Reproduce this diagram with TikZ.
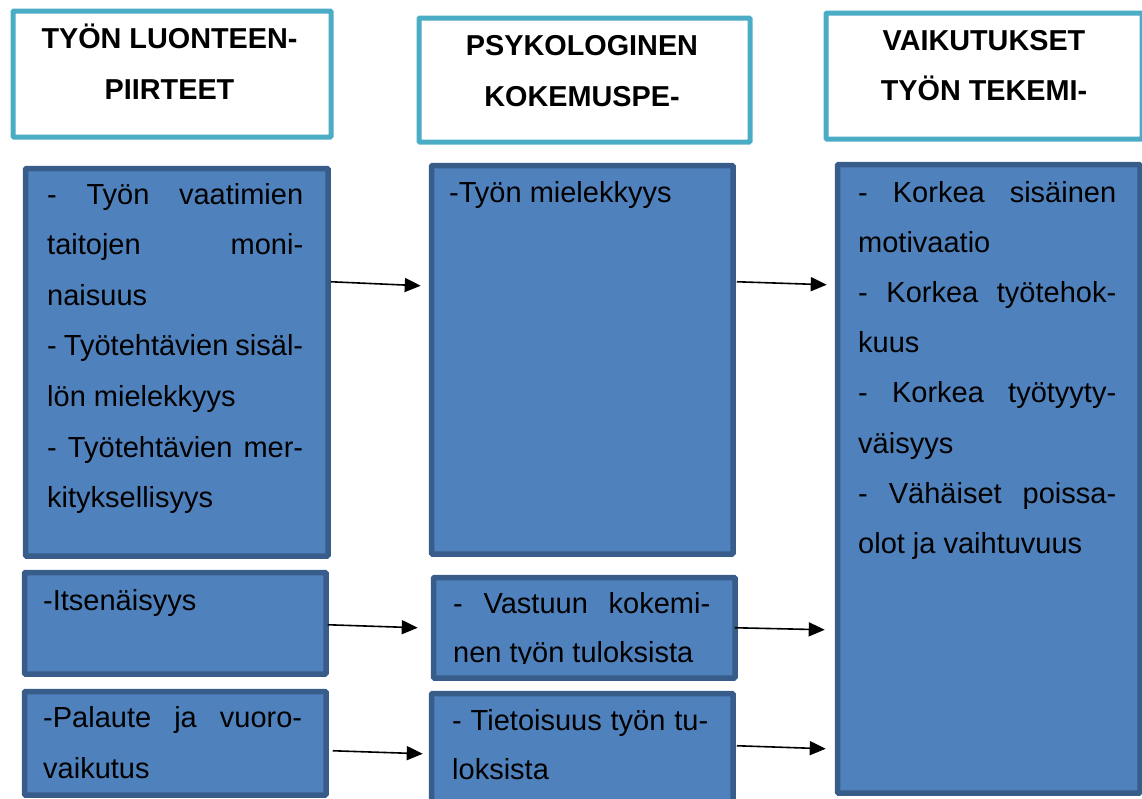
\documentclass[tikz,border=0pt]{standalone}
\usepackage{fontspec}
\setmainfont{Liberation Sans}
\usetikzlibrary{arrows.meta,calc}
\definecolor{hdrline}{HTML}{4BACC6}
\definecolor{boxfill}{HTML}{4F81BD}
\definecolor{boxline}{HTML}{385D8A}
\newcommand\jline[2]{\hbox to #1{#2}}
\newcommand\pline[1]{\hbox{#1}}
\begin{document}
\begin{tikzpicture}[x=1pt,y=-1pt,
  hdrbox/.style={draw=hdrline,line width=5pt,fill=white,rounded corners=1pt,inner sep=0pt,anchor=north west},
  bodybox/.style={draw=boxline,line width=5.5pt,fill=boxfill,rounded corners=1pt,inner sep=0pt,anchor=north west},
  hdrtext/.style={anchor=base,inner sep=0pt,font=\bfseries\fontsize{28.8}{51}\selectfont},
  bodytext/.style={anchor=base west,inner sep=0pt,font=\fontsize{29}{50.6}\selectfont},
  arr/.style={-{Triangle[length=16pt,width=14pt]},line width=1.6pt,black}
]
\useasboundingbox (0,0) rectangle (1142,798);
% header boxes
\node[hdrbox,minimum width=318pt,minimum height=126pt] (H1) at (10.5,8.5) {};
\node[hdrbox,minimum width=331pt,minimum height=124pt] (H2) at (416.5,15.5) {};
\node[hdrbox,minimum width=316pt,minimum height=126pt] (H3) at (823.5,10.5) {};
\node[hdrtext] (H1t) at (169.5,48) {\vtop{\baselineskip=51pt\hbox to 0pt{\hss TYÖN LUONTEEN-\hss}\hbox to 0pt{\hss PIIRTEET\hss}}};
\node[hdrtext] (H2t) at (582,55) {\vtop{\baselineskip=51pt\hbox to 0pt{\hss PSYKOLOGINEN\hss}\hbox to 0pt{\hss KOKEMUSPE-\hss}}};
\node[hdrtext] (H3t) at (984,50) {\vtop{\baselineskip=50pt\hbox to 0pt{\hss VAIKUTUKSET\hss}\hbox to 0pt{\hss TYÖN TEKEMI-\hss}}};
% body boxes
\node[bodybox,minimum width=302.5pt,minimum height=387.5pt] (B1) at (22.75,165.75) {};
\node[bodybox,minimum width=301.5pt,minimum height=101.5pt] (B2) at (21.75,569.75) {};
\node[bodybox,minimum width=301.5pt,minimum height=103.5pt] (B3) at (21.75,688.75) {};
\node[bodybox,minimum width=301.5pt,minimum height=388.5pt] (M1) at (428.75,162.75) {};
\node[bodybox,minimum width=301.5pt,minimum height=100.5pt] (M2) at (430.75,574.75) {};
\node[bodybox,minimum width=301.5pt,minimum height=140pt] (M3) at (428.75,690.75) {};
\node[bodybox,minimum width=302.5pt,minimum height=628.5pt] (R1) at (834.75,161.75) {};
% body texts
\node[bodytext] (B1t) at (47,204) {\vtop{\baselineskip=50.6pt
  \jline{256pt}{-\hfil\hfil Työn\hfil\hfil vaatimien}
  \jline{256pt}{taitojen\hfill moni-}
  \pline{naisuus}
  \jline{256pt}{- Työtehtävien sisäl-}
  \pline{lön mielekkyys}
  \jline{256pt}{- Työtehtävien mer-}
  \pline{kityksellisyys}}};
\node[bodytext] (B2t) at (43,610) {-Itsenäisyys};
\node[bodytext] (B3t) at (43,727) {\vtop{\baselineskip=51pt
  \jline{259pt}{-Palaute\hfil ja\hfil vuoro-}
  \pline{vaikutus}}};
\node[bodytext] (M1t) at (449,202) {-Työn mielekkyys};
\begin{scope}
\clip (433,577) rectangle (730,663);
\node[bodytext] (M2t) at (453,613) {\vtop{\baselineskip=49pt
  \jline{257pt}{-\hfil Vastuun\hfil kokemi-}
  \pline{nen työn tuloksista}}};
\end{scope}
\node[bodytext] (M3t) at (452,730) {\vtop{\baselineskip=49pt
  \jline{256pt}{- Tietoisuus työn tu-}
  \pline{loksista}}};
\node[bodytext] (R1t) at (858,202) {\vtop{\baselineskip=50.2pt
  \jline{258pt}{-\hfil Korkea\hfil sisäinen}
  \pline{motivaatio}
  \jline{258pt}{-\hfil Korkea\hfil työtehok-}
  \pline{kuus}
  \jline{258pt}{-\hfil Korkea\hfil työtyyty-}
  \pline{väisyys}
  \jline{258pt}{-\hfil Vähäiset\hfil poissa-}
  \pline{olot ja vaihtuvuus}}};
% arrows
\draw[arr] ($(B1.north east)+(0,116)$) -- ($(M1.north west)+(-8,123)$);
\draw[arr] ($(M1.north east)+(1,119)$) -- ($(R1.north west)+(-8,123)$);
\draw[arr] ($(B2.north east)+(-1,55)$) -- ($(M2.north west)+(-13,53)$);
\draw[arr] ($(B3.north east)+(4,62)$) -- ($(M3.north west)+(-6,63)$);
\draw[arr] ($(M2.north east)+(-3,53)$) -- ($(R1.north west)+(-10,468)$);
\draw[arr] ($(M3.north east)+(1,55)$) -- ($(R1.north west)+(-9,587)$);
\end{tikzpicture}
\end{document}
